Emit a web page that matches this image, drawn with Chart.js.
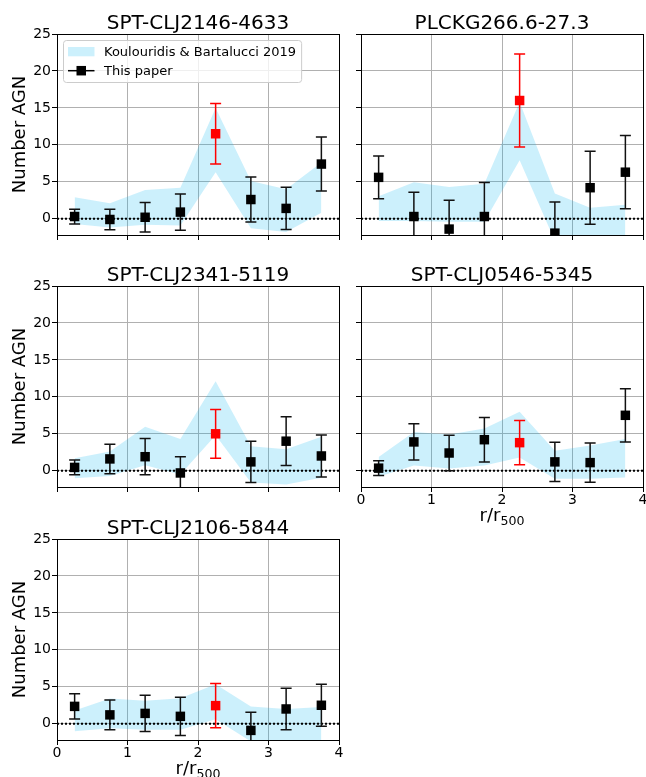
<!DOCTYPE html>
<html><head><meta charset="utf-8">
<script src="https://cdn.jsdelivr.net/npm/chart.js@4.4.1/dist/chart.umd.min.js"></script>
<style>
html,body{margin:0;padding:0;background:#fff;overflow:hidden;width:646px;height:777px;position:relative;}
canvas{position:absolute;}
</style></head><body>
<canvas id="c1"></canvas><canvas id="c2"></canvas><canvas id="c3"></canvas><canvas id="c4"></canvas><canvas id="c5"></canvas>
<script>
// ---------- data ----------
const radii = [0.25, 0.75, 1.25, 1.75, 2.25, 2.75, 3.25, 3.75];
const xTicks = [0, 1, 2, 3, 4];
const yTicks = [0, 5, 10, 15, 20, 25];
const zeroLineX = [0, 4];
const zeroLineY = [0, 0];
const titles = ['SPT-CLJ2146-4633', 'PLCKG266.6-27.3', 'SPT-CLJ2341-5119', 'SPT-CLJ0546-5345', 'SPT-CLJ2106-5844'];
const bandLabel = 'Koulouridis & Bartalucci 2019';
const pointLabel = 'This paper';

const c2146Counts = [0.3, -0.1, 0.2, 0.9, 11.5, 2.6, 1.4, 7.4];
const c2146Errors = [1.0, 1.4, 2.0, 2.45, 4.1, 3.05, 2.85, 3.65];
const c2146BandHigh = [2.9, 2.1, 3.9, 4.2, 15.0, 5.1, 4.0, 7.6];
const c2146BandLow = [-0.7, -1.2, -0.8, -0.9, 6.3, -1.3, -1.8, 0.8];

const g266Counts = [5.6, 0.3, -1.4, 0.3, 16.0, -1.95, 4.2, 6.3];
const g266Errors = [2.9, 3.3, 3.9, 4.6, 6.3, 4.2, 4.95, 4.95];
const g266BandHigh = [3.05, 4.95, 4.3, 4.75, 15.8, 3.4, 1.5, 1.9];
const g266BandLow = [-0.3, -0.3, -0.4, -0.4, 7.9, -3.0, -3.0, -3.0];

const c2341Counts = [0.45, 1.6, 1.9, -0.3, 5.0, 1.2, 4.0, 2.0];
const c2341Errors = [1.0, 2.0, 2.45, 2.2, 3.3, 2.8, 3.3, 2.85];
const c2341BandHigh = [1.7, 2.6, 5.95, 4.3, 12.1, 3.3, 2.9, 4.6];
const c2341BandLow = [-1.0, -0.7, 0.75, -0.5, 4.8, -1.6, -1.85, -0.95];

const c0546Counts = [0.35, 3.9, 2.4, 4.2, 3.8, 1.2, 1.1, 7.5];
const c0546Errors = [1.0, 2.45, 2.4, 3.0, 3.0, 2.65, 2.65, 3.6];
const c0546BandHigh = [1.85, 5.25, 4.9, 5.7, 8.0, 2.7, 3.4, 4.3];
const c0546BandLow = [-0.8, 0.7, 0.3, 0.7, 1.8, -1.1, -1.1, -0.9];

const c2106Counts = [2.35, 1.2, 1.4, 1.0, 2.45, -0.9, 2.0, 2.5];
const c2106Errors = [1.7, 2.0, 2.45, 2.6, 3.0, 2.45, 2.8, 2.85];
const c2106BandHigh = [1.8, 3.4, 3.1, 3.45, 5.35, 2.35, 2.0, 2.25];
const c2106BandLow = [-1.0, -0.6, -0.8, -0.8, 0.6, -2.4, -2.5, -2.5];

const highlightIndex = 4;

// ---------- styles / layout ----------
const FONT = '"DejaVu Sans", "Liberation Sans", sans-serif';
const BAND = 'rgba(0,180,240,0.2)';
const RED = '#ff0000';
const BLACK = '#000000';
const GRID = '#b0b0b0';
const Y_MIN = -2.2, Y_MAX = 25;

const cols = [{left: 0, width: 346, yW: 57, L: 57, R: 339}, {left: 346, width: 300, yW: 15, L: 361, R: 643}];
const rows = [{top: 0, T: 34, B: 235}, {top: 250, T: 286, B: 487}, {top: 505, T: 539, B: 740}];

const panels = [
  {id: 'c1', title: titles[0], counts: c2146Counts, errors: c2146Errors, hi: c2146BandHigh, lo: c2146BandLow, col: 0, row: 0, xLab: false, legend: true},
  {id: 'c2', title: titles[1], counts: g266Counts, errors: g266Errors, hi: g266BandHigh, lo: g266BandLow, col: 1, row: 0, xLab: false, legend: false},
  {id: 'c3', title: titles[2], counts: c2341Counts, errors: c2341Errors, hi: c2341BandHigh, lo: c2341BandLow, col: 0, row: 1, xLab: false, legend: false},
  {id: 'c4', title: titles[3], counts: c0546Counts, errors: c0546Errors, hi: c0546BandHigh, lo: c0546BandLow, col: 1, row: 1, xLab: true, legend: false, height: 290},
  {id: 'c5', title: titles[4], counts: c2106Counts, errors: c2106Errors, hi: c2106BandHigh, lo: c2106BandLow, col: 0, row: 2, xLab: true, legend: false, height: 272}
];

function al(v) { return Math.round(v - 0.5) + 0.5; }
function rrect(ctx, x, y, w, h, r) {
  ctx.beginPath();
  ctx.moveTo(x + r, y); ctx.lineTo(x + w - r, y); ctx.arcTo(x + w, y, x + w, y + r, r);
  ctx.lineTo(x + w, y + h - r); ctx.arcTo(x + w, y + h, x + w - r, y + h, r);
  ctx.lineTo(x + r, y + h); ctx.arcTo(x, y + h, x, y + h - r, r);
  ctx.lineTo(x, y + r); ctx.arcTo(x, y, x + r, y, r); ctx.closePath();
}

const decor = {
  id: 'decor',
  beforeDatasetDraw(chart, args, opts) {
    const ds = chart.data.datasets[args.index];
    if (!ds.errors) return;
    const xs = chart.scales.x, ys = chart.scales.y, a = chart.chartArea, ctx = chart.ctx;
    ctx.save();
    ctx.beginPath(); ctx.rect(a.left, a.top, a.right - a.left, a.bottom - a.top); ctx.clip();
    ctx.lineWidth = 1.5;
    const cap = 5.5;
    ds.data.forEach((p, i) => {
      const e = ds.errors[i];
      const px = xs.getPixelForValue(p.x);
      const yt = ys.getPixelForValue(p.y + e), yb = ys.getPixelForValue(p.y - e);
      ctx.strokeStyle = i === highlightIndex ? RED : '#111';
      ctx.beginPath();
      ctx.moveTo(px, yt); ctx.lineTo(px, yb);
      ctx.moveTo(px - cap, yt); ctx.lineTo(px + cap, yt);
      ctx.moveTo(px - cap, yb); ctx.lineTo(px + cap, yb);
      ctx.stroke();
    });
    ctx.restore();
  },
  afterDraw(chart, args, opts) {
    const ctx = chart.ctx, a = chart.chartArea;
    ctx.save();
    // frame (all four spines)
    ctx.strokeStyle = BLACK; ctx.lineWidth = 1;
    const l = al(a.left), r = al(a.right), t = al(a.top), b = al(a.bottom);
    ctx.strokeRect(l, t, r - l, b - t);
    // panel title
    ctx.fillStyle = BLACK;
    ctx.font = '20px ' + FONT; ctx.textAlign = 'center'; ctx.textBaseline = 'alphabetic';
    ctx.fillText(opts.title, (a.left + a.right) / 2, a.top - 5);
    // x axis title r/r500
    if (opts.xTitle) {
      const mainF = '18px ' + FONT, subF = '12.6px ' + FONT;
      ctx.font = mainF; const w1 = ctx.measureText('r/r').width;
      ctx.font = subF; const w2 = ctx.measureText('500').width;
      const x0 = (a.left + a.right) / 2 - (w1 + w2) / 2;
      const yb = a.bottom + 34;
      ctx.textAlign = 'left';
      ctx.font = mainF; ctx.fillText('r/r', x0, yb);
      ctx.font = subF; ctx.fillText('500', x0 + w1, yb + 4);
    }
    // legend
    if (opts.legend) {
      const ds = chart.data.datasets;
      const bandDs = ds.find(d => d.label === bandLabel), ptDs = ds.find(d => d.label === pointLabel);
      ctx.font = '13px ' + FONT;
      const tw = Math.max(ctx.measureText(bandDs.label).width, ctx.measureText(ptDs.label).width);
      const x0 = a.left + 6, y0 = a.top + 6, w = 41 + tw + 5, h = 42;
      rrect(ctx, x0 + 0.5, y0 + 0.5, w, h, 3);
      ctx.fillStyle = 'rgba(255,255,255,0.8)'; ctx.fill();
      ctx.strokeStyle = '#cccccc'; ctx.lineWidth = 1; ctx.stroke();
      ctx.fillStyle = BAND; ctx.fillRect(x0 + 5, y0 + 7, 26.5, 9.3);
      ctx.strokeStyle = BLACK; ctx.lineWidth = 1.5;
      ctx.beginPath(); ctx.moveTo(x0 + 5, y0 + 30.7); ctx.lineTo(x0 + 31.5, y0 + 30.7); ctx.stroke();
      ctx.fillStyle = BLACK; ctx.fillRect(x0 + 18.25 - 4.75, y0 + 30.7 - 4.75, 9.5, 9.5);
      ctx.textAlign = 'left'; ctx.textBaseline = 'alphabetic';
      ctx.fillText(bandDs.label, x0 + 41, y0 + 16);
      ctx.fillText(ptDs.label, x0 + 41, y0 + 34.5);
    }
    ctx.restore();
  }
};

panels.forEach(p => {
  const c = cols[p.col], r = rows[p.row];
  const cv = document.getElementById(p.id);
  const H = p.height || (r.B - r.top + 10);
  cv.width = c.width; cv.height = H;
  cv.style.left = c.left + 'px'; cv.style.top = r.top + 'px';
  cv.style.width = c.width + 'px'; cv.style.height = H + 'px';
  const xH = p.xLab ? 30 : 6;
  const yLab = p.col === 0;
  const pad = {
    left: c.L - c.left - c.yW,
    right: c.left + c.width - c.R,
    top: r.T - r.top,
    bottom: H - (r.B - r.top) - xH
  };
  new Chart(cv, {
    type: 'line',
    data: {
      datasets: [
        {label: pointLabel, data: radii.map((x, i) => ({x, y: p.counts[i]})), errors: p.errors,
         showLine: false, pointStyle: 'rect', pointRadius: 6.7, pointBorderWidth: 0,
         pointBackgroundColor: ctx => ctx.dataIndex === highlightIndex ? RED : BLACK,
         pointBorderColor: ctx => ctx.dataIndex === highlightIndex ? RED : BLACK, order: 0},
        {label: 'zero', data: zeroLineX.map((x, i) => ({x, y: zeroLineY[i]})), borderColor: BLACK,
         borderWidth: 2, borderDash: [2, 2], pointRadius: 0, fill: false, order: 1},
        {label: bandLabel, data: radii.map((x, i) => ({x, y: p.hi[i]})), borderColor: 'rgba(0,0,0,0)', borderWidth: 0,
         backgroundColor: BAND, pointRadius: 0, fill: '+1', tension: 0, order: 3},
        {label: 'band-low', data: radii.map((x, i) => ({x, y: p.lo[i]})), borderColor: 'rgba(0,0,0,0)', borderWidth: 0,
         pointRadius: 0, fill: false, tension: 0, order: 2}
      ]
    },
    options: {
      responsive: false, animation: false, devicePixelRatio: 1,
      layout: {padding: pad, autoPadding: false},
      plugins: {legend: {display: false}, tooltip: {enabled: false},
        decor: {title: p.title, xTitle: p.xLab, legend: p.legend}},
      scales: {
        x: {type: 'linear', min: 0, max: 4,
          afterBuildTicks: s => { s.ticks = xTicks.map(v => ({value: v})); },
          afterFit: s => { s.height = xH; s.paddingLeft = 0; s.paddingRight = 0; },
          ticks: {display: p.xLab, padding: 0, color: BLACK, font: {family: FONT, size: 14}, maxRotation: 0},
          grid: {color: GRID, lineWidth: 1, tickLength: 5, tickColor: BLACK, tickWidth: 1},
          border: {display: false}},
        y: {type: 'linear', min: Y_MIN, max: Y_MAX,
          afterBuildTicks: s => { s.ticks = yTicks.map(v => ({value: v})); },
          afterFit: s => { s.width = c.yW; s.paddingTop = 0; s.paddingBottom = 0; },
          ticks: {display: yLab, padding: 1, color: BLACK, font: {family: FONT, size: 14}},
          grid: {color: GRID, lineWidth: 1, tickLength: 5, tickColor: BLACK, tickWidth: 1},
          border: {display: false},
          title: {display: yLab, text: 'Number AGN', color: BLACK, font: {family: FONT, size: 18}, padding: {top: 10, bottom: 0}}}
      }
    },
    plugins: [decor]
  });
});
</script>
</body></html>
